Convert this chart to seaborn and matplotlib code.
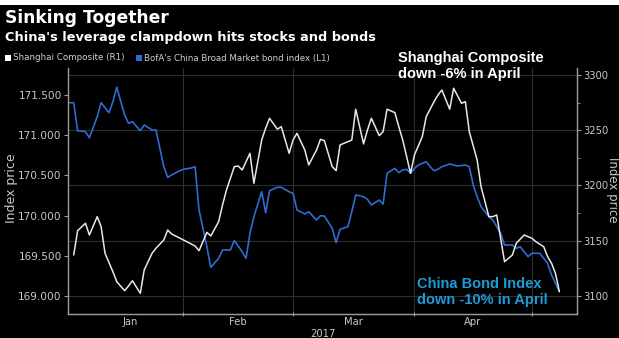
import matplotlib
matplotlib.use('Agg')
import matplotlib.pyplot as plt
import matplotlib.dates as mdates
from matplotlib.patches import Rectangle
from matplotlib.ticker import FixedLocator, FixedFormatter, NullFormatter
import seaborn as sns
import pandas as pd

# ---------------- data ----------------
bond_dates = [
    '2017-01-03', '2017-01-04', '2017-01-05', '2017-01-07', '2017-01-08', '2017-01-10', '2017-01-11',
    '2017-01-13', '2017-01-14', '2017-01-15', '2017-01-17', '2017-01-18', '2017-01-19', '2017-01-21',
    '2017-01-22', '2017-01-24', '2017-01-25', '2017-01-27', '2017-01-28', '2017-01-29', '2017-01-31',
    '2017-02-01', '2017-02-03', '2017-02-04', '2017-02-05', '2017-02-07', '2017-02-08', '2017-02-10',
    '2017-02-11', '2017-02-13', '2017-02-14', '2017-02-15', '2017-02-16', '2017-02-17', '2017-02-18',
    '2017-02-19', '2017-02-21', '2017-02-22', '2017-02-23', '2017-02-25', '2017-02-26', '2017-02-28',
    '2017-03-01', '2017-03-02', '2017-03-04', '2017-03-05', '2017-03-07', '2017-03-08', '2017-03-09',
    '2017-03-11', '2017-03-12', '2017-03-13', '2017-03-15', '2017-03-16', '2017-03-17', '2017-03-19',
    '2017-03-20', '2017-03-21', '2017-03-23', '2017-03-24', '2017-03-25', '2017-03-27', '2017-03-28',
    '2017-03-29', '2017-03-30', '2017-03-31', '2017-04-01', '2017-04-02', '2017-04-04', '2017-04-05',
    '2017-04-06', '2017-04-07', '2017-04-08', '2017-04-10', '2017-04-11', '2017-04-12', '2017-04-14',
    '2017-04-15', '2017-04-16', '2017-04-17', '2017-04-18', '2017-04-20', '2017-04-21', '2017-04-22',
    '2017-04-23', '2017-04-24', '2017-04-26', '2017-04-27', '2017-04-28', '2017-04-30', '2017-05-01',
    '2017-05-03', '2017-05-04', '2017-05-05', '2017-05-06', '2017-05-07', '2017-05-08']
bond_values = [
    171.404, 171.404, 171.056, 171.044, 170.969, 171.230, 171.404,
    171.280, 171.417, 171.596, 171.251, 171.148, 171.168, 171.056,
    171.127, 171.065, 171.065, 170.608, 170.476, 170.505, 170.558,
    170.576, 170.592, 170.608, 170.070, 169.613, 169.357, 169.469,
    169.572, 169.572, 169.688, 169.622, 169.551, 169.469, 169.780,
    169.986, 170.297, 170.036, 170.310, 170.352, 170.352, 170.297,
    170.277, 170.070, 170.020, 170.048, 169.945, 169.999, 169.995,
    169.842, 169.663, 169.830, 169.862, 170.048, 170.256, 170.235,
    170.203, 170.132, 170.194, 170.144, 170.526, 170.588, 170.534,
    170.567, 170.576, 170.526, 170.588, 170.629, 170.670, 170.608,
    170.558, 170.576, 170.608, 170.642, 170.629, 170.617, 170.629,
    170.608, 170.381, 170.235, 170.111, 169.986, 169.945, 169.862,
    169.780, 169.634, 169.634, 169.593, 169.613, 169.489, 169.531,
    169.531, 169.469, 169.407, 169.261, 169.158, 169.053]

shcomp_dates = [
    '2017-01-04', '2017-01-05', '2017-01-07', '2017-01-08', '2017-01-10', '2017-01-11', '2017-01-12',
    '2017-01-14', '2017-01-15', '2017-01-17', '2017-01-18', '2017-01-19', '2017-01-21', '2017-01-22',
    '2017-01-24', '2017-01-25', '2017-01-27', '2017-01-28', '2017-01-29', '2017-02-01', '2017-02-04',
    '2017-02-05', '2017-02-07', '2017-02-08', '2017-02-10', '2017-02-11', '2017-02-12', '2017-02-14',
    '2017-02-15', '2017-02-16', '2017-02-18', '2017-02-19', '2017-02-21', '2017-02-22', '2017-02-23',
    '2017-02-25', '2017-02-26', '2017-02-28', '2017-03-01', '2017-03-02', '2017-03-04', '2017-03-05',
    '2017-03-07', '2017-03-08', '2017-03-09', '2017-03-11', '2017-03-12', '2017-03-13', '2017-03-15',
    '2017-03-16', '2017-03-17', '2017-03-19', '2017-03-20', '2017-03-21', '2017-03-23', '2017-03-24',
    '2017-03-25', '2017-03-27', '2017-03-28', '2017-03-29', '2017-03-31', '2017-04-01', '2017-04-03',
    '2017-04-04', '2017-04-06', '2017-04-07', '2017-04-08', '2017-04-10', '2017-04-11', '2017-04-13',
    '2017-04-14', '2017-04-15', '2017-04-17', '2017-04-18', '2017-04-20', '2017-04-21', '2017-04-22',
    '2017-04-24', '2017-04-26', '2017-04-27', '2017-04-29', '2017-05-01', '2017-05-02', '2017-05-04',
    '2017-05-05', '2017-05-06', '2017-05-07', '2017-05-08']
shcomp_values = [
    3137.1, 3159.1, 3165.8, 3155.2, 3171.8, 3162.7, 3138.6,
    3122.0, 3112.9, 3104.8, 3109.1, 3113.8, 3102.4, 3123.5,
    3138.6, 3143.2, 3150.7, 3159.7, 3156.1, 3150.7, 3145.2,
    3141.0, 3157.6, 3154.3, 3167.2, 3182.4, 3195.9, 3217.0,
    3217.6, 3214.0, 3229.1, 3202.0, 3241.2, 3251.8, 3260.8,
    3250.9, 3253.2, 3229.1, 3241.2, 3247.2, 3232.1, 3218.6,
    3232.1, 3241.8, 3240.5, 3217.0, 3213.4, 3236.7, 3239.6,
    3241.2, 3269.0, 3237.6, 3250.2, 3260.8, 3245.1, 3248.7,
    3269.0, 3265.9, 3253.2, 3241.2, 3211.0, 3227.6, 3244.2,
    3262.3, 3275.8, 3281.9, 3286.4, 3269.0, 3288.0, 3274.4,
    3275.8, 3248.7, 3223.1, 3198.9, 3171.8, 3171.8, 3173.3,
    3131.0, 3137.1, 3147.7, 3155.2, 3152.2, 3149.1, 3144.6,
    3135.6, 3129.6, 3120.5, 3103.9]

left_ticks = [169.0, 169.5, 170.0, 170.5, 171.0, 171.5]
right_ticks = [3100, 3150, 3200, 3250, 3300]
right_minor_ticks = [3125, 3175, 3225, 3275]
month_bounds = ['2017-02-01', '2017-03-01', '2017-04-01', '2017-05-01']
month_label_dates = ['2017-01-18 09:00', '2017-02-14 22:00', '2017-03-16 10:00', '2017-04-15 22:00']
month_labels = ['Jan', 'Feb', 'Mar', 'Apr']
year_label = '2017'

bond_df = pd.DataFrame({'date': pd.to_datetime(bond_dates), 'value': bond_values})
sh_df = pd.DataFrame({'date': pd.to_datetime(shcomp_dates), 'value': shcomp_values})

# ---------------- style ----------------
sns.set_style('dark', {'axes.facecolor': 'black', 'figure.facecolor': 'black',
                       'axes.edgecolor': '#9a9a9a', 'text.color': '#d8d8d8',
                       'xtick.color': '#9a9a9a', 'ytick.color': '#9a9a9a'})
plt.rcParams['font.family'] = ['DejaVu Sans']

W, H = 619, 338
fig = plt.figure(figsize=(W / 100, H / 100), dpi=100, facecolor='black')

def fx(px):
    return px / W

def fy(py):
    return 1 - py / H

ax_l, ax_r, ax_t, ax_b = 68, 577, 68, 314
ax = fig.add_axes([fx(ax_l), fy(ax_b), fx(ax_r - ax_l), (ax_b - ax_t) / H])
ax.set_facecolor('black')
ax2 = ax.twinx()
ax2.patch.set_visible(False)

BLUE = '#2f6cd0'
WHITE = '#e8e8e8'
GRID = '#2e2e2e'
TICKTXT = '#c8c8c8'

ylim_l = (168.776, 171.836)
ylim_r = (3083.7, 3306.3)
xlim = (pd.Timestamp('2017-01-02 13:00'), pd.Timestamp('2017-05-12 12:00'))

# gridlines (horizontal at right-axis major ticks, vertical at month boundaries)
for v in right_ticks:
    lv = ylim_l[0] + (v - ylim_r[0]) * (ylim_l[1] - ylim_l[0]) / (ylim_r[1] - ylim_r[0])
    ax.axhline(lv, color=GRID, lw=0.8, zorder=0)
for d in month_bounds:
    ax.axvline(pd.Timestamp(d), color=GRID, lw=0.8, zorder=0)

sns.lineplot(data=bond_df, x='date', y='value', ax=ax, color=BLUE, lw=1.2, zorder=3)
sns.lineplot(data=sh_df, x='date', y='value', ax=ax2, color=WHITE, lw=1.1, zorder=3)

ax.set_xlim(*xlim)
ax.set_ylim(*ylim_l)
ax2.set_ylim(*ylim_r)

ax.grid(False)
ax2.grid(False)

# left axis
ax.set_yticks(left_ticks)
ax.set_yticklabels([f'{v:.3f}' for v in left_ticks])
ax.tick_params(axis='y', which='major', direction='out', length=3, width=0.8,
               color='#9a9a9a', labelcolor=TICKTXT, labelsize=7.6, pad=1.5, left=True)
ax.set_ylabel('')
fig.text(fx(12), fy(188), 'Index price', color=TICKTXT, fontsize=9, rotation=90,
         ha='center', va='center')

# right axis
ax2.set_yticks(right_ticks)
ax2.set_yticklabels([str(v) for v in right_ticks])
ax2.yaxis.set_minor_locator(FixedLocator(right_minor_ticks))
ax2.tick_params(axis='y', which='major', direction='out', length=3, width=0.8,
                color='#9a9a9a', labelcolor=TICKTXT, labelsize=7.2, pad=1.5, right=True)
ax2.tick_params(axis='y', which='minor', direction='out', length=2, width=0.6,
                color='#9a9a9a', right=True)
ax2.set_ylabel('')
fig.text(fx(613), fy(190), 'Index price', color=TICKTXT, fontsize=8.5, rotation=-90,
         ha='center', va='center')

# x axis
ax.xaxis.set_major_locator(FixedLocator([mdates.date2num(pd.Timestamp(d)) for d in month_bounds]))
ax.xaxis.set_major_formatter(NullFormatter())
ax.xaxis.set_minor_locator(FixedLocator([mdates.date2num(pd.Timestamp(d)) for d in month_label_dates]))
ax.xaxis.set_minor_formatter(FixedFormatter(month_labels))
ax.tick_params(axis='x', which='major', direction='inout', length=3, width=0.8,
               color='#9a9a9a', bottom=True)
ax.tick_params(axis='x', which='minor', length=0, labelcolor=TICKTXT, labelsize=7.2, pad=2.5,
               bottom=True)
ax.set_xlabel(year_label, color=TICKTXT, fontsize=7.2, labelpad=1)

for a in (ax, ax2):
    a.spines['top'].set_visible(False)
    for s in ('left', 'right', 'bottom'):
        a.spines[s].set_color('#9a9a9a')
        a.spines[s].set_linewidth(0.9)

# ---------------- header texts ----------------
fig.add_artist(Rectangle((0, fy(5)), 1, 5 / H, transform=fig.transFigure,
                         facecolor='white', edgecolor='none', zorder=10))

fig.text(fx(5), fy(18), 'Sinking Together', color='white', fontsize=12.3,
         fontweight='bold', va='center', ha='left')
fig.text(fx(5), fy(37), "China's leverage clampdown hits stocks and bonds", color='white',
         fontsize=9.25, fontweight='bold', va='center', ha='left')

# legend
fig.add_artist(Rectangle((fx(5), fy(61)), fx(6), 6 / H, transform=fig.transFigure,
                         facecolor='white', edgecolor='none'))
fig.text(fx(13), fy(58), 'Shanghai Composite (R1)', color='#cfcfcf', fontsize=6.3,
         va='center', ha='left')
fig.add_artist(Rectangle((fx(136), fy(61)), fx(6), 6 / H, transform=fig.transFigure,
                         facecolor=BLUE, edgecolor='none'))
fig.text(fx(144), fy(58), "BofA's China Broad Market bond index (L1)", color='#cfcfcf',
         fontsize=6.2, va='center', ha='left')

# annotations
fig.text(fx(398), fy(78), 'Shanghai Composite\ndown -6% in April', color='white',
         fontsize=10.5, fontweight='bold', family=['Liberation Sans'], va='baseline',
         ha='left', linespacing=1.15)
fig.text(fx(417), fy(304), 'China Bond Index\ndown -10% in April', color='#1e9ad8',
         fontsize=10.5, fontweight='bold', family=['Liberation Sans'], va='baseline',
         ha='left', linespacing=1.15)

fig.savefig('out.png', dpi=100, facecolor='black')
